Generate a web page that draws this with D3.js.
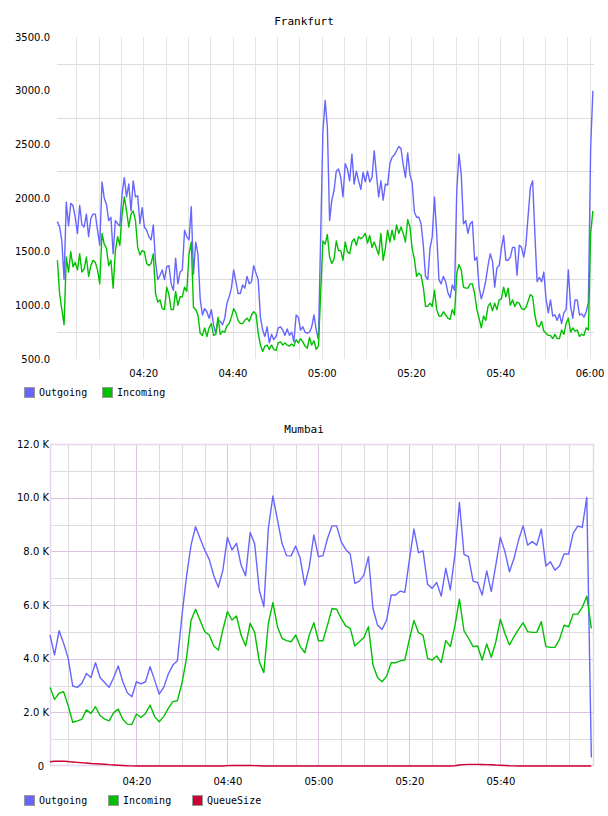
<!DOCTYPE html>
<html>
<head>
<meta charset="utf-8">
<script src="https://cdn.jsdelivr.net/npm/d3@7"></script>
<style>
  body { margin: 0; background: #fff; }
  svg { display: block; }
</style>
</head>
<body>
<div id="charts"></div>
<script>
// Frankfurt: one sample every 30 s starting 04:00:45
const fraStart = '04:00:45'
const fraStep = 30
const fraOutgoing = [
  1780, 1730, 1600, 1240, 1960, 1740, 1950, 1930, 1820, 1670,
  1930, 1750, 1730, 1850, 1640, 1810, 1850, 1850, 1700, 1560,
  2150, 2000, 1940, 1790, 1820, 1480, 1790, 1760, 1740, 2040,
  2190, 2010, 2130, 1880, 2160, 2010, 2020, 1760, 1910, 1730,
  1700, 1640, 1610, 1750, 1400, 1240, 1280, 1330, 1240, 1360,
  1370, 1200, 1140, 1440, 1200, 1310, 1330, 1700, 1640, 1610,
  1920, 1290, 1590, 1480, 1060, 910, 970, 940, 880, 960,
  820, 740, 860, 850, 820, 880, 1020, 1080, 1160, 1330,
  1220, 1110, 1110, 1190, 1160, 1270, 1200, 1220, 1370, 1300,
  1240, 890, 770, 710, 800, 650, 730, 680, 710, 790,
  800, 770, 720, 780, 720, 750, 660, 910, 890, 770,
  800, 750, 740, 750, 800, 910, 770, 680, 1640, 2620,
  2910, 2660, 1790, 1980, 2070, 2250, 2270, 2190, 2010, 2320,
  2270, 2160, 2410, 2130, 2250, 2160, 2080, 2240, 2150, 2250,
  2150, 2190, 2440, 2220, 2010, 2160, 1980, 2130, 2120, 2320,
  2380, 2400, 2440, 2480, 2460, 2310, 2190, 2420, 2220, 2140,
  1870, 1820, 1820, 1760, 1560, 1270, 1240, 1530, 1640, 2010,
  1670, 1240, 1200, 1270, 1220, 1120, 1070, 1190, 1140, 2070,
  2410, 2220, 1760, 1790, 1670, 1760, 1780, 1420, 1450, 1170,
  1060, 1130, 1230, 1370, 1480, 1410, 1170, 1350, 1370, 1530,
  1650, 1420, 1420, 1450, 1540, 1540, 1280, 1560, 1540, 1450,
  1570, 1840, 2100, 2160, 1670, 1220, 1260, 1220, 1310, 1060,
  930, 1050, 900, 910, 860, 920, 830, 930, 960, 1330,
  990, 880, 1050, 1050, 910, 920, 890, 940, 1030, 2470,
  3000
]
const fraIncoming = [
  1420, 1110, 960, 820, 1450, 1310, 1500, 1360, 1400, 1330,
  1480, 1310, 1340, 1450, 1270, 1370, 1420, 1400, 1330, 1200,
  1670, 1570, 1530, 1370, 1420, 1160, 1510, 1640, 1560, 1850,
  2010, 1880, 1730, 1850, 1880, 1790, 1540, 1470, 1510, 1500,
  1390, 1370, 1390, 1480, 1110, 1030, 1050, 970, 960, 1170,
  1100, 960, 960, 1130, 1000, 1080, 1080, 1170, 1130, 1480,
  1590, 980, 960, 910, 740, 720, 790, 710, 790, 830,
  720, 730, 890, 730, 760, 750, 810, 830, 890, 970,
  930, 860, 830, 830, 860, 880, 850, 910, 940, 920,
  740, 630, 570, 620, 630, 590, 630, 590, 580, 650,
  660, 630, 650, 630, 620, 640, 620, 680, 650, 690,
  660, 620, 600, 700, 630, 670, 590, 620, 1110, 1600,
  1570, 1660, 1450, 1390, 1430, 1600, 1510, 1510, 1420, 1590,
  1500, 1480, 1590, 1620, 1560, 1640, 1620, 1640, 1670, 1580,
  1650, 1540, 1590, 1530, 1470, 1670, 1420, 1530, 1700, 1590,
  1700, 1610, 1750, 1670, 1730, 1670, 1590, 1800, 1730, 1530,
  1430, 1270, 1300, 1280, 1170, 990, 990, 1020, 990, 1140,
  960, 900, 900, 940, 910, 880, 870, 960, 910, 1300,
  1380, 1330, 1170, 1160, 1160, 1200, 1200, 1110, 960, 880,
  790, 900, 860, 990, 1020, 950, 1020, 960, 1050, 1060,
  1170, 1080, 1160, 1000, 1050, 990, 1030, 1020, 970, 960,
  980, 1040, 1100, 1080, 910, 810, 800, 850, 760, 740,
  720, 720, 690, 730, 690, 690, 770, 730, 830, 880,
  750, 790, 760, 770, 710, 730, 720, 790, 770, 1670,
  1880
]
const fraTicks = [500, 1000, 1500, 2000, 2500, 3000, 3500]
const fraGrid = [750, 1250, 1750, 2250, 2750, 3250]
const fraTimeLabels = ['04:20', '04:40', '05:00', '05:20', '05:40', '06:00']

// Mumbai: one sample per minute starting 04:01
const mumStart = '04:01:00'
const mumStep = 60
const mumOutgoing = [
  4880, 4140, 5040, 4570, 4010, 2980, 2930, 3080, 3450, 3300,
  3850, 3300, 3110, 2930, 3300, 3730, 3140, 2730, 2580, 3140,
  3060, 3140, 3700, 3200, 2680, 2930, 3430, 3760, 3920, 5600,
  7050, 8230, 8920, 8480, 8050, 7700, 7090, 6660, 7300, 8520,
  8050, 8300, 7490, 7090, 8700, 8270, 6560, 5940, 8860, 10060,
  9170, 8300, 7840, 7830, 8200, 7740, 6740, 7430, 8610, 7800,
  7840, 8480, 8950, 8950, 8360, 8070, 7900, 6810, 6890, 7120,
  7800, 5870, 5250, 5090, 5440, 6370, 6370, 6520, 6470, 7680,
  8830, 7950, 8020, 6770, 6620, 6840, 6330, 7370, 6560, 7860,
  9820, 7890, 7800, 6890, 6840, 6370, 7270, 6500, 7490, 8520,
  7990, 7240, 7740, 8420, 8950, 8230, 8360, 8230, 8830, 7450,
  7610, 7300, 7450, 7900, 7900, 8670, 8940, 8890, 10010, 320
]
const mumIncoming = [
  2930, 2480, 2710, 2770, 2240, 1630, 1680, 1740, 2090, 1960,
  2210, 1880, 1750, 1680, 1990, 2120, 1740, 1560, 1550, 1940,
  1810, 1960, 2270, 1840, 1650, 1840, 2150, 2400, 2430, 3080,
  4010, 5420, 5840, 5420, 5010, 4880, 4470, 4320, 5070, 5750,
  5440, 5590, 4880, 4470, 5320, 4970, 3890, 3480, 5320, 6090,
  5190, 4760, 4670, 4630, 4880, 4450, 4220, 4880, 5340, 4670,
  4670, 5250, 5870, 5840, 5500, 5220, 5130, 4470, 4630, 4790,
  5190, 3760, 3300, 3140, 3350, 3850, 3850, 3920, 3950, 4720,
  5420, 4970, 4880, 4010, 3950, 4100, 3850, 4670, 4450, 5220,
  6220, 5040, 4760, 4450, 4470, 3950, 4550, 4050, 4630, 5470,
  4940, 4510, 4820, 5090, 5340, 5010, 4980, 4980, 5380, 4450,
  4420, 4420, 4720, 5250, 5190, 5660, 5660, 5910, 6330, 5130
]
const mumQueue = [
  160, 175, 180, 175, 165, 150, 135, 120, 110, 95,
  85, 75, 65, 50, 40, 30, 20, 10, 5, 0,
  0, 0, 0, 0, 0, 0, 0, 0, 0, 0,
  0, 0, 0, 0, 0, 0, 0, 0, 0, 15,
  20, 20, 20, 20, 20, 15, 10, 0, 0, 0,
  0, 0, 0, 0, 0, 0, 0, 0, 0, 0,
  0, 0, 0, 0, 0, 0, 0, 0, 0, 0,
  0, 0, 0, 0, 0, 0, 0, 0, 0, 0,
  0, 0, 0, 0, 0, 0, 0, 0, 0, 10,
  35, 50, 60, 60, 60, 55, 50, 45, 35, 30,
  20, 10, 5, 0, 0, 0, 0, 0, 0, 0,
  0, 0, 0, 0, 0, 0, 0, 0, 0, 0
]
const mumTicks = [0, 2000, 4000, 6000, 8000, 10000, 12000]
const mumGrid = [1000, 2000, 3000, 4000, 5000, 6000, 7000, 8000, 9000, 10000, 11000]
const mumTimeLabels = ['04:20', '04:40', '05:00', '05:20', '05:40']

const colors = { Outgoing: '#6666ff', Incoming: '#00c000', QueueSize: '#cc0033' }

const parseTime = d3.utcParse('%H:%M:%S')
const parseHM = d3.utcParse('%H:%M')
const fmtHM = d3.utcFormat('%H:%M')

function series (start, step, values) {
  const t0 = parseTime(start).getTime()
  return values.map((v, i) => ({ t: new Date(t0 + i * step * 1000), v }))
}

const svg = d3.select('#charts')
  .append('svg')
  .attr('width', 608)
  .attr('height', 816)

function title (text, y) {
  svg.append('text')
    .attr('x', 304)
    .attr('y', y)
    .attr('text-anchor', 'middle')
    .attr('font-family', 'DejaVu Sans Mono')
    .attr('font-size', 11)
    .text(text)
}

function legend (names, y, step) {
  const g = svg.append('g')
  names.forEach((name, i) => {
    const x = 24 + i * step
    g.append('rect')
      .attr('x', x + 0.5)
      .attr('y', y + 0.5)
      .attr('width', 10)
      .attr('height', 10)
      .attr('fill', colors[name])
      .attr('stroke', '#999')
    g.append('text')
      .attr('x', x + 15)
      .attr('y', y + 9)
      .attr('font-family', 'DejaVu Sans Mono')
      .attr('font-size', 10)
      .text(name)
  })
}

function styleAxis (g) {
  g.select('.domain').remove()
  g.attr('font-family', 'DejaVu Sans').attr('font-size', 10)
  g.selectAll('text').attr('fill', '#000')
}

function drawLine (data, x, y, color) {
  const line = d3.line().x(d => x(d.t)).y(d => y(d.v))
  svg.append('path')
    .datum(data)
    .attr('fill', 'none')
    .attr('stroke', color)
    .attr('stroke-width', 1.4)
    .attr('stroke-linejoin', 'round')
    .attr('d', line)
}

// ---------- Frankfurt ----------
const fx = d3.scaleUtc()
  .domain([parseTime('04:00:40'), parseTime('06:01:00')])
  .range([57, 594])
const fy = d3.scaleLinear().domain([500, 3500]).range([359, 37])

title('Frankfurt', 25)

svg.append('g').selectAll('line')
  .data(d3.utcMinute.every(5).range(parseHM('04:05'), parseTime('06:00:01')))
  .enter().append('line')
  .attr('x1', d => Math.round(fx(d)) + 0.5)
  .attr('x2', d => Math.round(fx(d)) + 0.5)
  .attr('y1', 37)
  .attr('y2', 359)
  .attr('stroke', '#e4e4e4')

svg.append('g').selectAll('line')
  .data(fraGrid)
  .enter().append('line')
  .attr('x1', 57)
  .attr('x2', 594)
  .attr('y1', d => Math.round(fy(d)) + 0.5)
  .attr('y2', d => Math.round(fy(d)) + 0.5)
  .attr('stroke', '#dcdcdc')

svg.append('g')
  .attr('transform', 'translate(57,0)')
  .call(d3.axisLeft(fy).tickValues(fraTicks).tickFormat(d3.format('.1f')).tickSize(0).tickPadding(7))
  .call(styleAxis)

svg.append('g')
  .attr('transform', 'translate(0,359)')
  .call(d3.axisBottom(fx).tickValues(fraTimeLabels.map(parseHM)).tickFormat(fmtHM).tickSize(0).tickPadding(11))
  .call(styleAxis)

drawLine(series(fraStart, fraStep, fraOutgoing), fx, fy, colors.Outgoing)
drawLine(series(fraStart, fraStep, fraIncoming), fx, fy, colors.Incoming)

legend(['Outgoing', 'Incoming'], 387, 78)

// ---------- Mumbai ----------
const mx = d3.scaleUtc()
  .domain([parseTime('04:01:00'), parseTime('06:00:35')])
  .range([50, 594])
const my = d3.scaleLinear().domain([0, 12000]).range([766, 444])

title('Mumbai', 433)

svg.append('g').selectAll('line')
  .data(d3.utcMinute.every(5).range(parseHM('04:05'), parseHM('06:00')))
  .enter().append('line')
  .attr('x1', d => Math.round(mx(d)) + 0.5)
  .attr('x2', d => Math.round(mx(d)) + 0.5)
  .attr('y1', 444)
  .attr('y2', 766)
  .attr('stroke', d => d.getUTCMinutes() % 20 === 0 ? '#dcc4e0' : '#dcdcdc')

svg.append('g').selectAll('line')
  .data(mumGrid)
  .enter().append('line')
  .attr('x1', 50)
  .attr('x2', 594)
  .attr('y1', d => Math.round(my(d)) + 0.5)
  .attr('y2', d => Math.round(my(d)) + 0.5)
  .attr('stroke', d => d % 2000 === 0 ? '#dcc4e0' : '#dcdcdc')

svg.append('rect')
  .attr('x', 50.5)
  .attr('y', 444.5)
  .attr('width', 543)
  .attr('height', 321)
  .attr('fill', 'none')
  .attr('stroke', '#e8d6ec')
  .attr('stroke-width', 1.5)

svg.append('g')
  .attr('transform', 'translate(50,0)')
  .call(d3.axisLeft(my).tickValues(mumTicks)
    .tickFormat(d => d === 0 ? '0' : d3.format('.1f')(d / 1000) + ' K')
    .tickSize(0).tickPadding(1))
  .call(styleAxis)
  .call(g => g.selectAll('.tick text').filter(d => d === 0).attr('dx', -5))

svg.append('g')
  .attr('transform', 'translate(0,766)')
  .call(d3.axisBottom(mx).tickValues(mumTimeLabels.map(parseHM)).tickFormat(fmtHM).tickSize(0).tickPadding(12))
  .call(styleAxis)

drawLine(series(mumStart, mumStep, mumOutgoing), mx, my, colors.Outgoing)
drawLine(series(mumStart, mumStep, mumIncoming), mx, my, colors.Incoming)
drawLine(series(mumStart, mumStep, mumQueue), mx, my, colors.QueueSize)

legend(['Outgoing', 'Incoming', 'QueueSize'], 795, 84)
</script>
</body>
</html>
